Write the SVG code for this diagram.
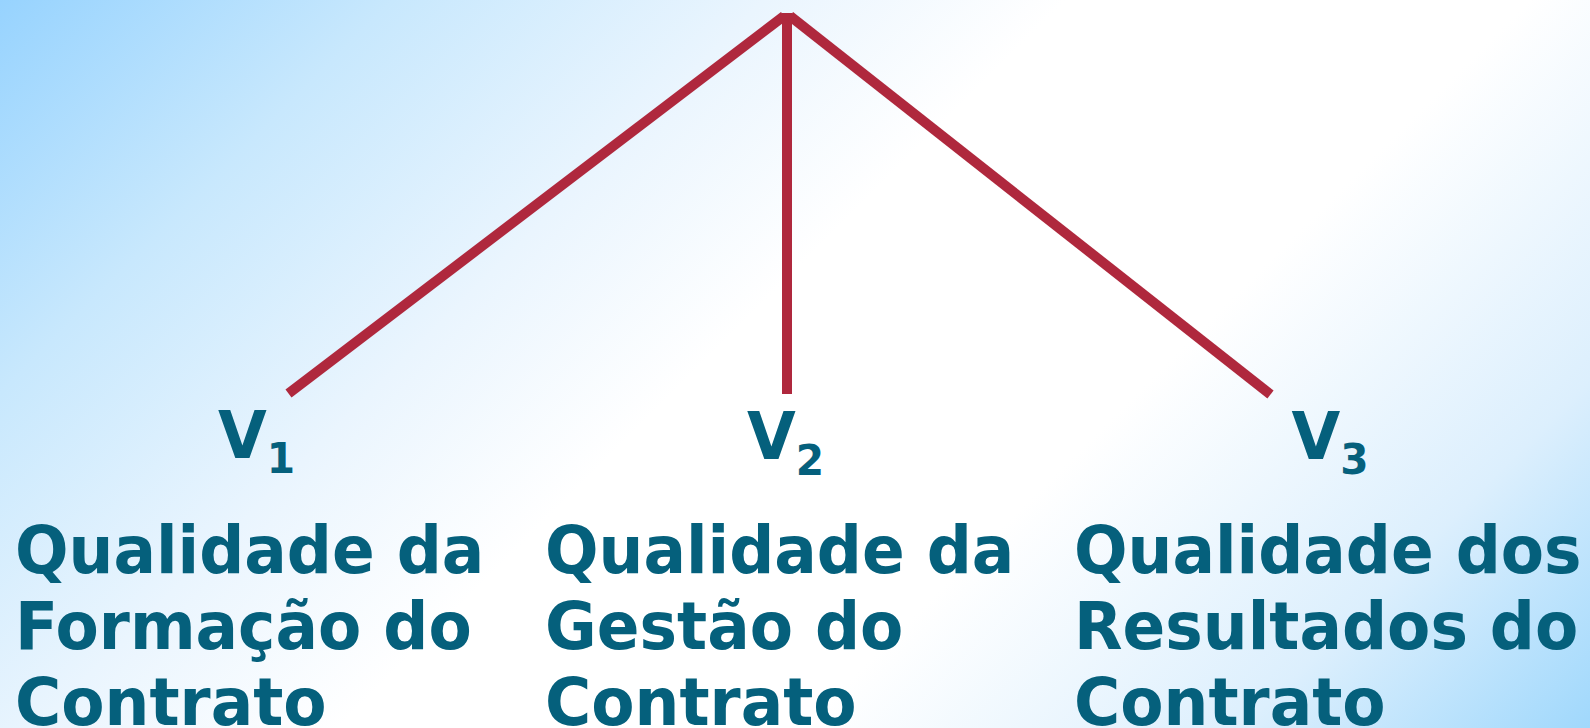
<svg xmlns="http://www.w3.org/2000/svg" width="1590" height="728" viewBox="0 0 1590 728">
  <defs>
    <linearGradient id="bg" gradientUnits="userSpaceOnUse" x1="0" y1="0" x2="1159" y2="1159">
      <stop offset="0" stop-color="#97D3FE"/>
      <stop offset="0.17" stop-color="#C8E8FD"/>
      <stop offset="0.33" stop-color="#EAF5FE"/>
      <stop offset="0.46" stop-color="#FFFFFF"/>
      <stop offset="0.66" stop-color="#FFFFFF"/>
      <stop offset="0.85" stop-color="#DCEFFD"/>
      <stop offset="1" stop-color="#A0D8FC"/>
    </linearGradient>
  </defs>
  <style>
    .lbl { font-family: "DejaVu Sans", Verdana, sans-serif; font-weight: bold; font-size: 65px; fill: #05607C; }
    .sub { font-size: 42px; }
    .conn { stroke: #AF283D; stroke-width: 10; stroke-linecap: butt; fill: none; }
  </style>
  <rect x="0" y="0" width="1590" height="728" fill="url(#bg)"/>
  <g id="connectors">
    <line class="conn" x1="288.5" y1="393.5" x2="784" y2="16"/>
    <line class="conn" x1="787" y1="13" x2="787" y2="394"/>
    <line class="conn" x1="790" y1="16" x2="1270.5" y2="394.5"/>
  </g>
  <g id="v1">
    <text class="lbl" transform="translate(218 458) scale(0.97 1)">V<tspan class="sub" dy="15">1</tspan></text>
  </g>
  <g id="v2">
    <text class="lbl" transform="translate(747 459) scale(0.97 1)">V<tspan class="sub" dy="16">2</tspan></text>
  </g>
  <g id="v3">
    <text class="lbl" transform="translate(1291.5 459) scale(0.97 1)">V<tspan class="sub" dy="15">3</tspan></text>
  </g>
  <g id="formacao">
    <text class="lbl" transform="translate(15 573) scale(0.97 1)">Qualidade da</text>
    <text class="lbl" transform="translate(15 649) scale(0.97 1)">Formação do</text>
    <text class="lbl" transform="translate(15 725) scale(0.97 1)">Contrato</text>
  </g>
  <g id="gestao">
    <text class="lbl" transform="translate(545 573) scale(0.97 1)">Qualidade da</text>
    <text class="lbl" transform="translate(545 649) scale(0.97 1)">Gestão do</text>
    <text class="lbl" transform="translate(545 725) scale(0.97 1)">Contrato</text>
  </g>
  <g id="resultados">
    <text class="lbl" transform="translate(1074 573) scale(0.97 1)">Qualidade dos</text>
    <text class="lbl" transform="translate(1074 649) scale(0.97 1)">Resultados do</text>
    <text class="lbl" transform="translate(1074 725) scale(0.97 1)">Contrato</text>
  </g>
</svg>
